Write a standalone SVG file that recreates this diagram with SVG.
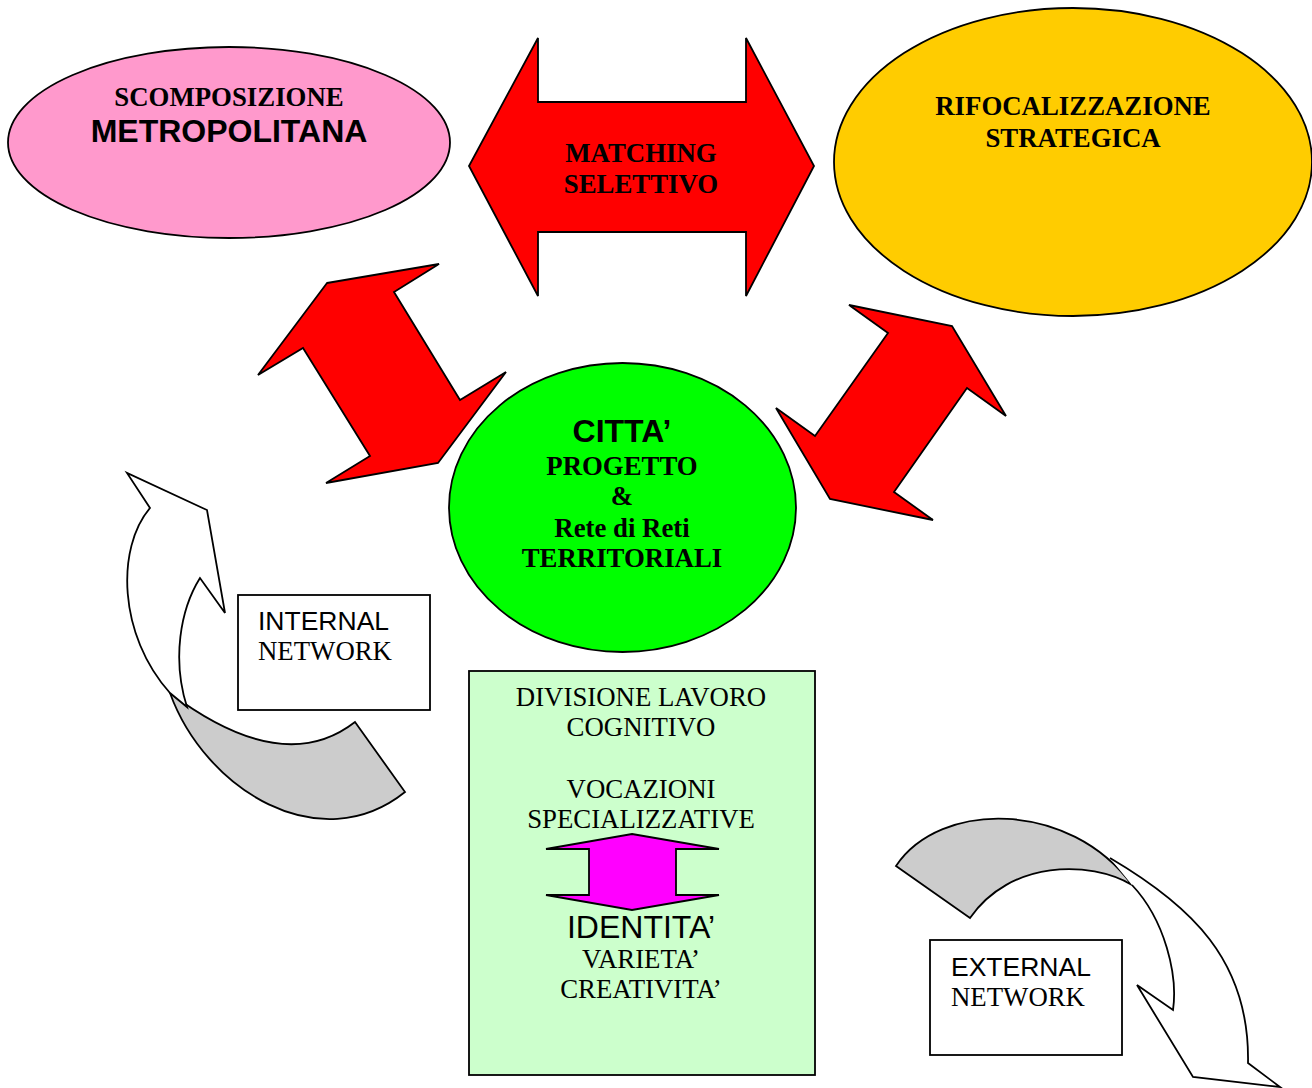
<svg xmlns="http://www.w3.org/2000/svg" width="1312" height="1088" viewBox="0 0 1312 1088">
<style>
.sh{stroke:#000;stroke-width:1.8;stroke-linejoin:miter}
.sb{font-family:"Liberation Serif","Times New Roman",serif;font-weight:bold;font-size:26.8px;text-anchor:middle}
.sr{font-family:"Liberation Serif","Times New Roman",serif;font-size:26.8px}
.ab{font-family:"Liberation Sans",Arial,sans-serif;font-weight:bold;font-size:32px;text-anchor:middle}
.ar{font-family:"Liberation Sans",Arial,sans-serif;font-size:26.5px}
</style>
<rect width="1312" height="1088" fill="#fff"/>
<g id="connectors">
  <path id="matching" class="sh" fill="#FF0000" d="M469,166 L538,38 L538,102 L746,102 L746,38 L814,166 L746,296 L746,232 L538,232 L538,296 Z"/>
  <path id="arrow-left" class="sh" fill="#FF0000" d="M327,283 L439,264 L394,292 L460,400 L506,372 L438,463 L326,483 L370,456 L303,348 L258,375 Z"/>
  <path id="arrow-right" class="sh" fill="#FF0000" d="M849,305 L952,326 L1006,416 L967,388 L894,492 L933,520 L830,499 L776,408 L815,436 L888,333 Z"/>
  <g id="internal-arrow">
    <path class="sh" fill="#CCCCCC" d="M170,693 C205,790 320,860 405,792 L355,722 Q283,778 170,693 Z"/>
    <path class="sh" fill="#FFFFFF" d="M150,508 L127,473 L207,510 L225,613 L200,578 C180,610 172,660 187,707 L170,693 C118,635 116,548 150,508 Z"/>
  </g>
  <g id="external-arrow">
    <path class="sh" fill="#CCCCCC" d="M896,866 C940,800 1070,800 1132,885 C1090,860 1010,860 970,918 Z"/>
    <path class="sh" fill="#FFFFFF" d="M1110,858 C1190,905 1250,960 1248,1063 L1280,1087 L1193,1077 L1137,985 L1173,1010 C1178,975 1165,920 1132,885"/>
  </g>
</g>
<g id="scomposizione">
  <ellipse class="sh" fill="#FF99CC" cx="229" cy="142.5" rx="221" ry="95.5"/>
  <text class="sb" x="229" y="106">SCOMPOSIZIONE</text>
  <text class="ab" x="229" y="142">METROPOLITANA</text>
</g>
<g id="rifocalizzazione">
  <ellipse class="sh" fill="#FFCC00" cx="1073" cy="162" rx="239" ry="154"/>
  <text class="sb" x="1073" y="115">RIFOCALIZZAZIONE</text>
  <text class="sb" x="1073" y="147">STRATEGICA</text>
</g>
<g id="matching-label">
  <text class="sb" x="641" y="162">MATCHING</text>
  <text class="sb" x="641" y="193">SELETTIVO</text>
</g>
<g id="citta">
  <ellipse class="sh" fill="#00FF00" cx="622.5" cy="507.5" rx="173.5" ry="144.5"/>
  <text class="ab" x="622" y="442">CITTA’</text>
  <text class="sb" x="622" y="475">PROGETTO</text>
  <text class="sb" x="622" y="505">&amp;</text>
  <text class="sb" x="622" y="537">Rete di Reti</text>
  <text class="sb" x="622" y="567">TERRITORIALI</text>
</g>
<g id="internal-network">
  <rect class="sh" fill="#FFFFFF" x="238" y="595" width="192" height="115"/>
  <text class="ar" x="258" y="630">INTERNAL</text>
  <text class="sr" x="258" y="660">NETWORK</text>
</g>
<g id="external-network">
  <rect class="sh" fill="#FFFFFF" x="930" y="940" width="192" height="115"/>
  <text class="ar" x="951" y="976">EXTERNAL</text>
  <text class="sr" x="951" y="1006">NETWORK</text>
</g>
<g id="divisione">
  <rect class="sh" fill="#CCFFCC" x="469" y="671" width="346" height="404"/>
  <g class="sr" text-anchor="middle">
    <text x="641" y="706">DIVISIONE LAVORO</text>
    <text x="641" y="736">COGNITIVO</text>
    <text x="641" y="798">VOCAZIONI</text>
    <text x="641" y="828">SPECIALIZZATIVE</text>
  </g>
  <path id="identita-arrow" class="sh" fill="#FF00FF" d="M632,834 L719,849 L676,849 L676,895 L719,895 L632,910 L546,895 L589,895 L589,849 L546,849 Z"/>
  <text class="ar" x="641" y="938" text-anchor="middle" style="font-size:32px">IDENTITA’</text>
  <text class="sr" x="641" y="968" text-anchor="middle">VARIETA’</text>
  <text class="sr" x="641" y="998" text-anchor="middle">CREATIVITA’</text>
</g>
</svg>
